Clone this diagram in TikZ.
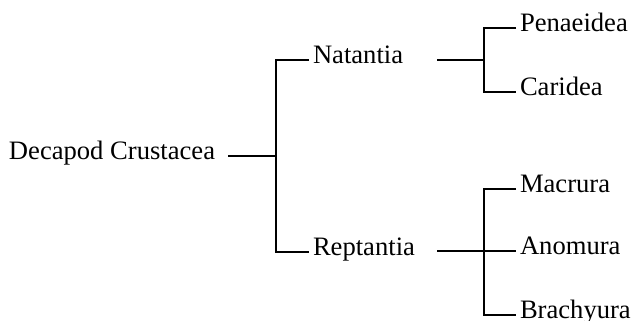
\documentclass[tikz,border=0pt]{standalone}
\usepackage{fontspec}
\setmainfont{Liberation Serif}
\begin{document}
\begin{tikzpicture}[x=1pt,y=-1pt,line width=2pt,
  lbl/.style={anchor=base west,inner sep=0pt,font=\fontsize{26.6}{32}\selectfont}]
\useasboundingbox (0,0) rectangle (633,321);
% labels
\node[lbl] (dc) at (8,159.5) {Decapod Crustacea};
\node[lbl] (nat) at (312,63.5) {Natantia};
\node[lbl] (rep) at (312,255.5) {Reptantia};
\node[lbl] (pen) at (519,31.5) {Penaeidea};
\node[lbl] (car) at (519,95.5) {Caridea};
\node[lbl] (mac) at (519,192.5) {Macrura};
\node[lbl] (ano) at (519,254.5) {Anomura};
\node[lbl] (bra) at (519,318.5) {Brachyura};
% junctions
\coordinate (dcE) at (228,156);
\coordinate (j1) at (276,156);
\coordinate (natJ) at (276,60);
\coordinate (repJ) at (276,252);
\coordinate (natR) at (437,60);
\coordinate (j2) at (484,60);
\coordinate (penJ) at (484,28);
\coordinate (carJ) at (484,92);
\coordinate (repR) at (437,251);
\coordinate (j3) at (484,251);
\coordinate (macJ) at (484,189);
\coordinate (braJ) at (484,315);
% connectors
\draw (dcE) -- (j1);
\draw ([xshift=-3pt]nat.west |- natJ) -- (natJ) -- (repJ) -- ([xshift=-3pt]rep.west |- repJ);
\draw (natR) -- (j2);
\draw ([xshift=-3pt]pen.west |- penJ) -- (penJ) -- (carJ) -- ([xshift=-3pt]car.west |- carJ);
\draw (repR) -- (j3) -- ([xshift=-3pt]ano.west |- j3);
\draw ([xshift=-3pt]mac.west |- macJ) -- (macJ) -- (braJ) -- ([xshift=-3pt]bra.west |- braJ);
\end{tikzpicture}
\end{document}
